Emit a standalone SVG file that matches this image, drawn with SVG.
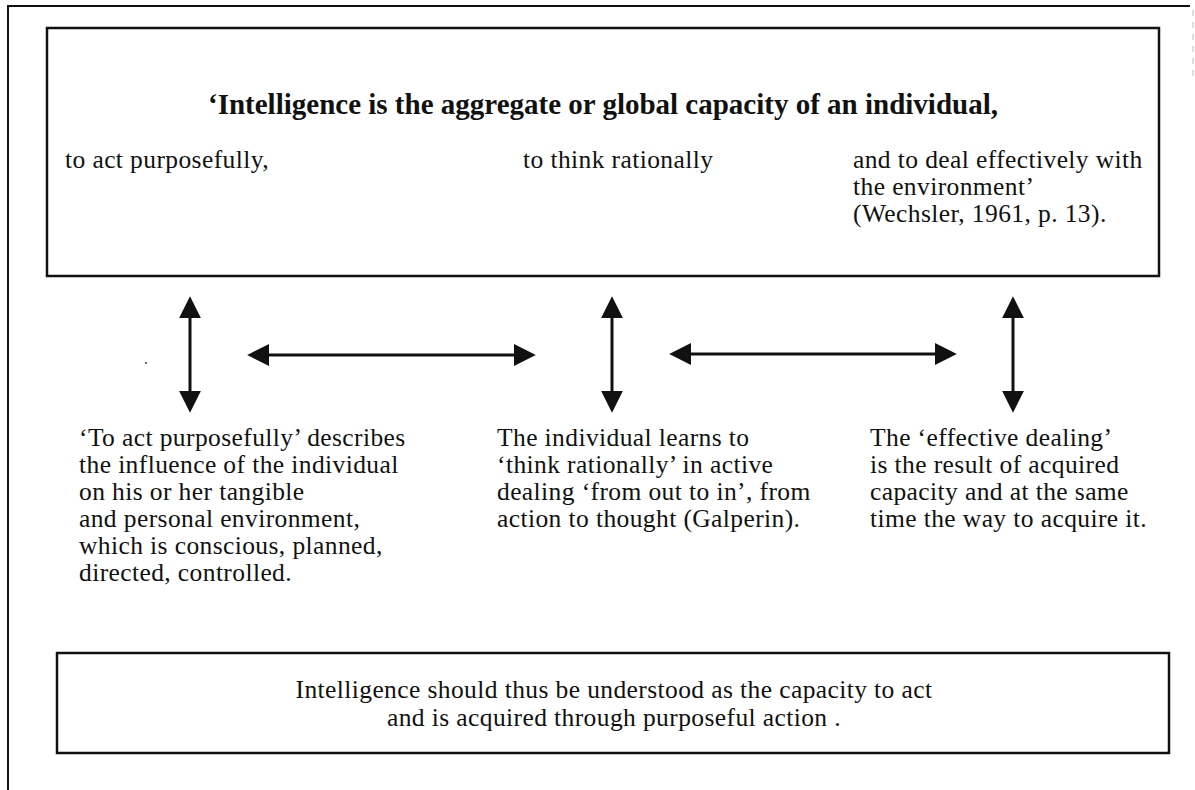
<svg xmlns="http://www.w3.org/2000/svg" width="1195" height="790" viewBox="0 0 1195 790">
<defs>
<style>
.t{font-family:'Liberation Serif','Tinos','DejaVu Serif',serif;font-size:25.5px;letter-spacing:0.4px;fill:#111;}
.b{font-weight:bold;font-size:29px;letter-spacing:0;}
.box{fill:none;stroke:#111;stroke-width:2.5;}
.frame{fill:none;stroke:#111;stroke-width:2;}
.arr{stroke:#111;stroke-width:3;fill:none;marker-start:url(#ah);marker-end:url(#ah);}
</style>
<marker id="ah" markerUnits="userSpaceOnUse" markerWidth="22" markerHeight="22" refX="12" refY="10" orient="auto-start-reverse" viewBox="0 0 20 20">
<path d="M0,0 L20,10 L0,20 Z" fill="#111"/>
</marker>
</defs>
<rect width="1195" height="790" fill="#fff"/>
<g id="frame">
<path class="frame" d="M8,790 L8,6 L1190,6"/>
<path d="M1193,10 L1193,80" stroke="#bbb" stroke-width="1" stroke-dasharray="6,6"/>
<circle cx="146" cy="363" r="1" fill="#333"/>
</g>
<g id="definition">
<rect class="box" x="47" y="28" width="1112" height="248"/>
<text class="t b" x="603" y="114" text-anchor="middle">‘Intelligence is the aggregate or global capacity of an individual,</text>
<text class="t" x="65" y="168">to act purposefully,</text>
<text class="t" x="523" y="168">to think rationally</text>
<text class="t" x="853" y="168">and to deal effectively with</text>
<text class="t" x="853" y="195">the environment’</text>
<text class="t" x="853" y="222">(Wechsler, 1961, p. 13).</text>
</g>
<g id="connectors">
<line class="arr" x1="190" y1="305" x2="190" y2="404"/>
<line class="arr" x1="256" y1="355" x2="527" y2="355"/>
<line class="arr" x1="612" y1="305" x2="612" y2="404"/>
<line class="arr" x1="678" y1="354" x2="948" y2="354"/>
<line class="arr" x1="1013" y1="305" x2="1013" y2="404"/>
</g>
<g id="act">
<text class="t" x="79" y="446">‘To act purposefully’ describes</text>
<text class="t" x="79" y="473">the influence of the individual</text>
<text class="t" x="79" y="500">on his or her tangible</text>
<text class="t" x="79" y="527">and personal environment,</text>
<text class="t" x="79" y="554">which is conscious, planned,</text>
<text class="t" x="79" y="581">directed, controlled.</text>
</g>
<g id="think">
<text class="t" x="497" y="446">The individual learns to</text>
<text class="t" x="497" y="473">‘think rationally’ in active</text>
<text class="t" x="497" y="500">dealing ‘from out to in’, from</text>
<text class="t" x="497" y="527">action to thought (Galperin).</text>
</g>
<g id="deal">
<text class="t" x="870" y="446">The ‘effective dealing’</text>
<text class="t" x="870" y="473">is the result of acquired</text>
<text class="t" x="870" y="500">capacity and at the same</text>
<text class="t" x="870" y="527">time the way to acquire it.</text>
</g>
<g id="conclusion">
<rect class="box" x="57" y="653" width="1112" height="100"/>
<text class="t" x="614" y="698" text-anchor="middle">Intelligence should thus be understood as the capacity to act</text>
<text class="t" x="614" y="726" text-anchor="middle">and is acquired through purposeful action .</text>
</g>
</svg>
